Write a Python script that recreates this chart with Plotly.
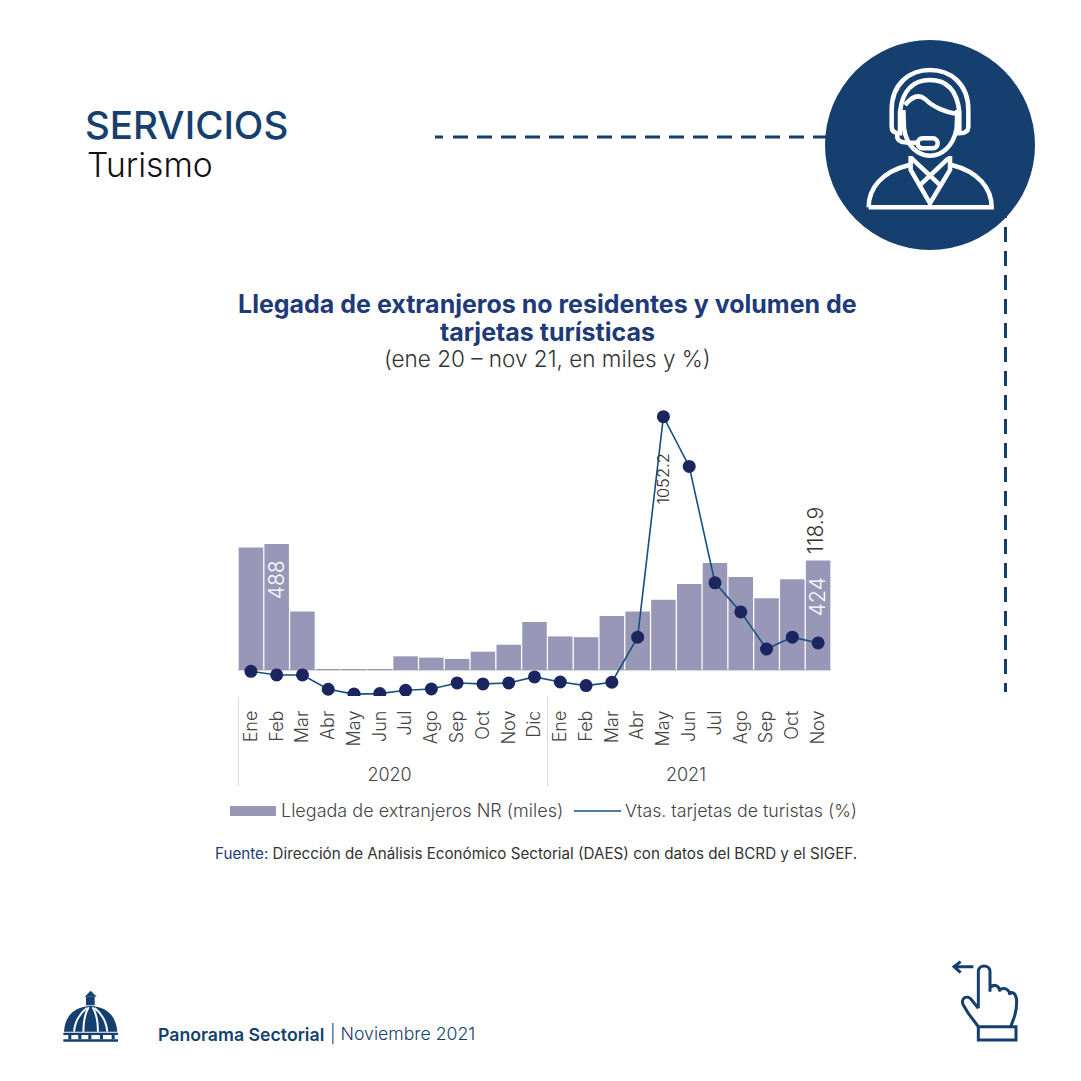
import re
import plotly.graph_objects as go

years = ["2020"] * 12 + ["2021"] * 11
months = ["Ene", "Feb", "Mar", "Abr", "May", "Jun", "Jul", "Ago", "Sep", "Oct", "Nov", "Dic",
          "Ene", "Feb", "Mar", "Abr", "May", "Jun", "Jul", "Ago", "Sep", "Oct", "Nov"]
arrivals = [474, 488, 227, 2.5, 1.5, 2, 53, 48, 43, 71, 98, 186,
            130, 127, 209, 227, 272, 333, 414, 360, 278, 351, 424]
card_sales = [2, -13, -13, -72, -92, -90, -76, -71, -46, -50, -46, -21,
              -42, -57, -43, 143, 1052.2, 847, 367, 247, 94, 143, 118.9]

W = H = 1081
NAVY = "#143f6e"
BAR = "#9897b8"
LINE = "#14507f"
DOT = "#1b2560"
FONT = "Inter"


def px(x):
    return x / W


def py(y):
    return 1 - y / H


def pth(d, ox=0, oy=0, s=1):
    def rep(m):
        return f"{px(ox + float(m[1]) * s):.5f},{py(oy + float(m[2]) * s):.5f}"
    return re.sub(r"(-?\d+\.?\d*),(-?\d+\.?\d*)", rep, d)


shapes = []


def stroke(d, ox, oy, s, color, w):
    shapes.append(dict(type="path", xref="paper", yref="paper", path=pth(d, ox, oy, s),
                       line=dict(color=color, width=w), fillcolor="rgba(0,0,0,0)"))


def fill(d, ox, oy, s, color):
    shapes.append(dict(type="path", xref="paper", yref="paper", path=pth(d, ox, oy, s),
                       line=dict(width=0), fillcolor=color))


def seg(x0, y0, x1, y1, color, w, dash="solid"):
    shapes.append(dict(type="line", xref="paper", yref="paper", x0=px(x0), y0=py(y0), x1=px(x1), y1=py(y1),
                       line=dict(color=color, width=w, dash=dash)))


# dashed rules and round badge
seg(435, 137, 443, 137, NAVY, 3)
seg(453, 137, 830, 137, NAVY, 3, "15px,9px")
seg(1005.5, 203, 1005.5, 692, NAVY, 3, "15px,9px")
shapes.append(dict(type="circle", xref="paper", yref="paper", x0=px(825), x1=px(1035), y0=py(250), y1=py(40),
                   fillcolor=NAVY, line=dict(width=0)))

# person with headset
for d in [
    "M245,240 C245,160 300,120 360,120 C420,120 475,160 475,240 L475,290 C475,305 465,310 448,310 L448,245 C440,175 405,150 360,150 C315,150 278,175 270,245 L270,310 C255,310 245,305 245,290 Z",
    "M285,225 C310,195 330,195 345,207 C370,232 410,248 442,252",
    "M280,240 L282,295 C290,350 325,377 360,377 C395,377 430,350 440,295 L442,240",
    "M262,312 C258,335 275,340 320,338",
    "M338,325 L368,325 C388,325 388,355 368,355 L338,355 C318,355 318,325 338,325 Z",
    "M176,532 L545,532 C545,475 505,425 425,405 M176,532 C176,475 215,425 298,405",
    "M302,378 L302,420 L360,520 L420,420 L420,378",
    "M305,385 L395,470 M415,385 L325,470",
]:
    stroke(d, 810, 30, 1 / 3, "white", 4.5)

# dome logo
fill("M42,155 C45,105 75,80 122,78 C168,80 198,105 202,155 Z", 50, 980, 1 / 3, NAVY)
for d in ["M72,155 C75,125 90,100 110,84", "M100,155 C100,125 105,100 116,82",
          "M144,155 C144,125 139,100 128,82", "M172,155 C169,125 154,100 134,84"]:
    stroke(d, 50, 980, 1 / 3, "white", 2)
fill("M108,50 L134,50 L134,76 L108,76 Z", 50, 980, 1 / 3, NAVY)
fill("M104,50 L122,32 L140,50 Z", 50, 980, 1 / 3, NAVY)
fill("M40,158 L204,158 L204,165 L40,165 Z", 50, 980, 1 / 3, NAVY)
fill("M40,178 L204,178 L204,185 L40,185 Z", 50, 980, 1 / 3, NAVY)
for xb in [55, 85, 115, 150, 185]:
    fill(f"M{xb},165 L{xb + 9},165 L{xb + 9},178 L{xb},178 Z", 50, 980, 1 / 3, NAVY)

# hand icon
for d in [
    "M42,50 L100,50 M62,35 L42,50 L62,68",
    "M115,175 L115,65 C115,42 150,42 150,65 L150,125 M150,112 C165,100 178,108 180,125 M180,118 C195,112 208,118 210,135 M210,128 C225,125 230,140 230,155 C230,185 222,205 212,230 L115,230 L85,190 L70,165 C60,145 82,132 95,150 L115,175",
    "M115,230 L115,270 L228,270 L228,230 L212,230",
]:
    stroke(d, 940, 950, 1 / 3, NAVY, 3)


def note(x, y, text, size, color, weight=400, xanchor="left", yanchor="middle", **kw):
    return dict(xref="paper", yref="paper", x=px(x), y=py(y), text=text, showarrow=False,
                xanchor=xanchor, yanchor=yanchor, font=dict(family=FONT, size=size, color=color, weight=weight), **kw)


annotations = [
    note(83, 125, "SERVICIOS", 38.5, NAVY, 500),
    note(85, 165, "Turismo", 33.7, "#111111", 300),
    note(547, 304, "Llegada de extranjeros no residentes y volumen de", 25, "#1f3a78", 700, "center"),
    note(547, 332, "tarjetas turísticas", 25, "#1f3a78", 700, "center"),
    note(547, 359, "(ene 20 – nov 21, en miles y %)", 22.5, "#333333", 300, "center"),
    note(279, 810, "Llegada de extranjeros NR (miles)", 18, "#444444", 300),
    note(623, 810, "Vtas. tarjetas de turistas (%)", 17.8, "#444444", 300),
    note(213, 853, '<span style="color:#1f3a78">Fuente:</span> Dirección de Análisis Económico Sectorial (DAES) con datos del BCRD y el SIGEF.',
         15.2, "#333333", 400),
    note(156, 1034, "Panorama Sectorial", 17.7, NAVY, 600),
    note(328, 1034, "| Noviembre 2021", 17.7, NAVY, 300),
    dict(xref="x", yref="y", x=1, y=arrivals[1], text="488", textangle=-90, showarrow=False, yanchor="top", yshift=-14,
         font=dict(family=FONT, size=21, color="white", weight=300)),
    dict(xref="x", yref="y", x=22, y=arrivals[22], text="424", textangle=-90, showarrow=False, yanchor="top", yshift=-15, xshift=-1,
         font=dict(family=FONT, size=21, color="white", weight=300)),
    dict(xref="x", yref="y", x=22, y=arrivals[22], text="118.9", textangle=-90, showarrow=False, yanchor="bottom", yshift=4, xshift=-3,
         font=dict(family=FONT, size=21, color="#333333", weight=300)),
    dict(xref="x", yref="y2", x=16, y=card_sales[16], text="1052.2", textangle=-90, showarrow=False, yanchor="top", yshift=-35,
         font=dict(family=FONT, size=16.5, color="#333333", weight=300)),
]

# legend keys
fill("M230,806 L276,806 L276,816 L230,816 Z", 0, 0, 1, BAR)
seg(574, 811, 621, 811, LINE, 1.6)

# px scale: primary 0 at y=670, secondary 0 at y=671.8
TOP, BOT = 400, 696
k1 = 126 / 488
k2 = 226.3 / 933.3
r1 = [(670 - BOT) / k1, (670 - TOP) / k1]
r2 = [(671.8 - BOT) / k2, (671.8 - TOP) / k2]

fig = go.Figure()
fig.add_bar(x=[years, months], y=arrivals, marker=dict(color=BAR, line=dict(width=0)), name="Llegada de extranjeros NR (miles)")
fig.add_scatter(x=[years, months], y=card_sales, yaxis="y2", mode="lines+markers",
                line=dict(color=LINE, width=1.6), marker=dict(color=DOT, size=13),
                name="Vtas. tarjetas de turistas (%)")
fig.update_layout(
    width=W, height=H, margin=dict(l=0, r=0, t=0, b=0), paper_bgcolor="white", plot_bgcolor="rgba(0,0,0,0)",
    showlegend=False, bargap=0.05, shapes=shapes, annotations=annotations,
    font=dict(family=FONT),
    xaxis=dict(type="multicategory", domain=[px(238), px(831)], range=[-0.5, 22.5], tickangle=-90, showline=False, showgrid=False,
               ticks="", ticklabelstandoff=10, tickprefix="\u00a0\u00a0", showdividers=True, dividercolor="#d9d9d9", dividerwidth=1,
               tickfont=dict(family=FONT, size=18, color="#444444", weight=300)),
    yaxis=dict(domain=[py(BOT), py(TOP)], range=r1, showticklabels=False, showgrid=False, zeroline=True,
               zerolinecolor="#d9d9d9", zerolinewidth=1.5),
    yaxis2=dict(domain=[py(BOT), py(TOP)], range=r2, overlaying="y", side="right", showticklabels=False, showgrid=False, zeroline=False),
)
fig.write_html("out.html", config={"displayModeBar": False},
               post_script="document.body.style.margin='0';document.body.style.overflow='hidden';")
